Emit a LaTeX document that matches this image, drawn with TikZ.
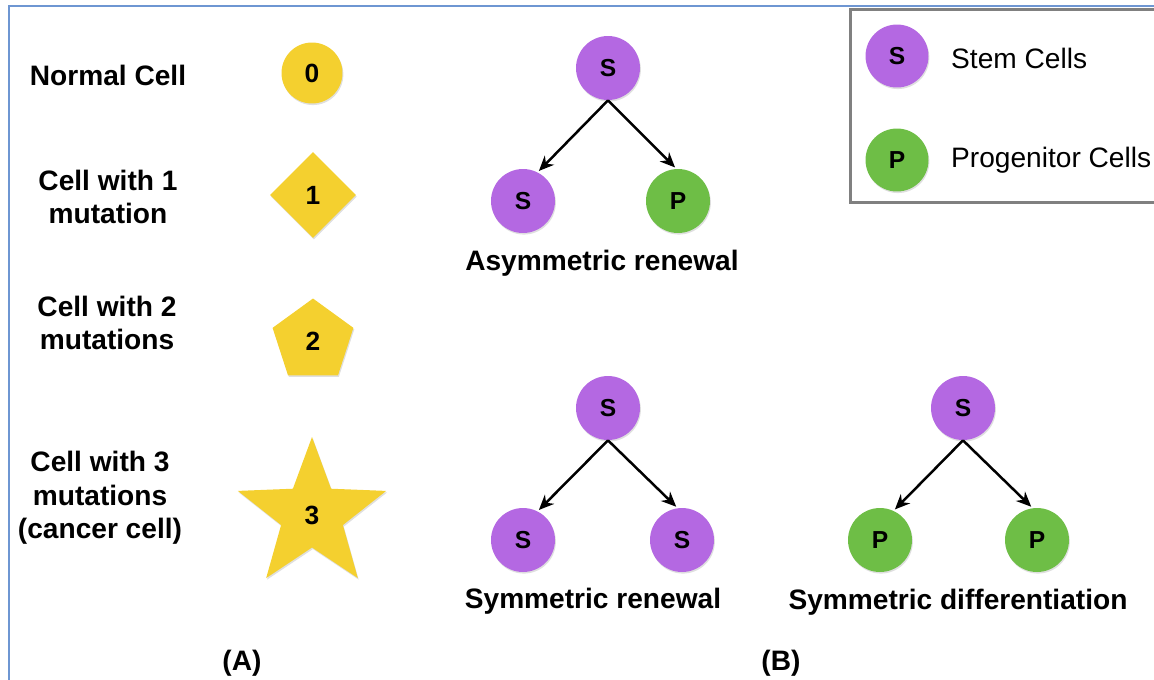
\documentclass[tikz,border=0pt]{standalone}
\usepackage{fontspec}
\setmainfont{Liberation Sans}
\usetikzlibrary{arrows.meta,shapes.geometric,shadows}

\definecolor{cellyellow}{RGB}{244,208,47}
\definecolor{stempurple}{RGB}{180,104,226}
\definecolor{progreen}{RGB}{110,190,70}
\definecolor{frameblue}{RGB}{110,150,210}

\tikzset{
  soft/.style={drop shadow={shadow xshift=0.5pt,shadow yshift=-0.9pt,opacity=0.25}},
  cell/.style={fill=cellyellow, inner sep=0pt, soft, font=\fontsize{15}{18}\selectfont\bfseries},
  stem/.style={circle, fill=stempurple, minimum size=1.28cm, inner sep=0pt, soft, font=\fontsize{14}{16}\selectfont\bfseries},
  prog/.style={stem, fill=progreen},
  lbl/.style={font=\fontsize{16}{19}\selectfont\bfseries, align=center},
  split/.style={-{Stealth[length=0.3cm,width=0.26cm]}, line width=0.05cm, shorten >=1pt},
}

\begin{document}
\begin{tikzpicture}[x=0.02cm,y=-0.02cm]
  \useasboundingbox (0,0) rectangle (1154,680);

  % frame and legend box
  \draw[frameblue, line width=0.04cm] (9,680) -- (9,6) -- (1154,6);
  \draw[gray, line width=0.06cm] (1160,9) -| (850,202) -- (1160,202);

  \node[stem, minimum size=1.26cm] (ls) at (897,56) {S};
  \node[prog, minimum size=1.26cm] (lp) at (897,160) {P};
  \node[anchor=west, font=\fontsize{16}{19}\selectfont] at (945,58) {Stem Cells};
  \node[anchor=west, font=\fontsize{16}{19}\selectfont] at (945,160) {Progenitor Cells};

  % (A) mutation stages
  \node[lbl] (n0) at (108,75) {Normal Cell};
  \node[lbl] (n1) at (108,197) {Cell with 1\\mutation};
  \node[lbl] (n2) at (107,323) {Cell with 2\\mutations};
  \node[lbl] (n3) at (100,498) {Cell with 3\\mutations\\(cancer cell)};

  \node[cell, circle, minimum size=1.22cm] (c0) at (312,73) {0};
  \node[cell, diamond, minimum size=1.72cm] (c1) at (313,195) {1};
  \node[cell, regular polygon, regular polygon sides=5, minimum size=1.7cm] (c2) at (313,341) {2};
  \node[cell, star, star points=5, star point ratio=2.4, minimum size=3.12cm] (c3) at (312,515) {3};

  \node[lbl] (la) at (242,663) {(A)};

  % (B) division modes
  \node[stem] (ar) at (608,68) {S};
  \node[stem] (ars) at (523,201) {S};
  \node[prog] (arp) at (678,201) {P};
  \draw[split] (ar.south) -- (ars.63);
  \draw[split] (ar.south) -- (arp.93);
  \node[lbl] (ta) at (602,263) {Asymmetric renewal};

  \node[stem] (sr) at (608,408) {S};
  \node[stem] (srl) at (523,540) {S};
  \node[stem] (srr) at (682,540) {S};
  \draw[split] (sr.south) -- (srl.63);
  \draw[split] (sr.south) -- (srr.98);
  \node[lbl] (ts) at (593,601) {Symmetric renewal};

  \node[stem] (sd) at (963,408) {S};
  \node[prog] (sdl) at (880,540) {P};
  \node[prog] (sdr) at (1037,540) {P};
  \draw[split] (sd.south) -- (sdl.65);
  \draw[split] (sd.south) -- (sdr.98);
  \node[lbl] (td) at (958,602) {Symmetric differentiation};

  \node[lbl] (lb) at (781,663) {(B)};
\end{tikzpicture}
\end{document}
